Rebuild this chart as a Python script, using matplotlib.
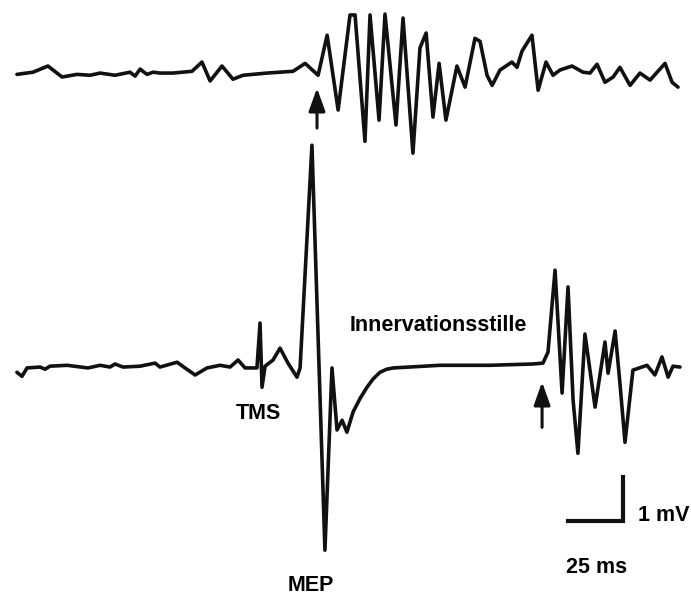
import matplotlib.pyplot as plt

# time in ms relative to the TMS pulse, amplitude in mV

# voluntary EMG (upper trace)
t_vol = [-110.5, -103.2, -96.4, -90.0, -83.2, -77.3, -72.7, -65.9, -59.1, -56.8,
         -54.5, -51.4, -48.6, -45.5, -39.5, -30.9, -26.4, -22.7, -17.3, -12.3,
         -7.7, 3.2, 15.0, 20.5, 26.4, 30.5, 35.5, 40.9, 43.2, 47.7,
         50.0, 54.1, 56.8, 61.8, 65.0, 69.5, 72.7, 75.5, 78.6, 81.4,
         84.5, 89.5, 93.2, 97.7, 100.0, 103.2, 105.5, 109.1, 114.5, 116.8,
         119.1, 123.6, 126.4, 130.0, 133.2, 136.4, 141.8, 146.8, 150.0, 153.2,
         156.8, 160.5, 163.6, 168.2, 172.7, 177.3, 184.1, 187.3, 190.0]
v_vol = [-0.05, 0.0, 0.14, -0.11, -0.05, -0.07, -0.02, -0.07, 0.0, -0.09,
         0.07, -0.05, 0.0, -0.02, -0.02, 0.02, 0.23, -0.20, 0.14, -0.16,
         -0.07, -0.02, 0.02, 0.20, -0.07, 0.84, -0.86, 1.30, 1.30, -1.57,
         1.30, -1.09, 1.32, -1.20, 1.23, -1.84, 0.55, 0.89, -1.02, 0.20,
         -1.09, 0.14, -0.34, 0.77, 0.70, -0.07, -0.30, 0.05, 0.23, 0.11,
         0.48, 0.84, -0.41, 0.23, -0.07, 0.05, 0.14, 0.0, -0.02, 0.18,
         -0.23, -0.11, 0.11, -0.30, -0.02, -0.18, 0.20, -0.23, -0.34]

# EMG with TMS pulse, MEP and silent period (lower trace)
t_tms = [-110.5, -108.2, -105.9, -100.0, -97.7, -95.5, -87.7, -78.2, -72.7, -68.2,
         -65.9, -62.3, -54.5, -47.7, -45.5, -37.7, -34.1, -29.5, -24.1, -18.2,
         -13.6, -10.0, -6.8, -1.4, 0.0, 0.9, 2.3, 5.9, 9.1, 12.7,
         16.8, 18.2, 23.6, 29.5, 32.7, 35.0, 37.3, 39.5, 42.3, 45.5,
         48.6, 51.4, 54.5, 57.5, 60.5, 81.8, 104.5, 124.1, 128.6, 130.9, 134.1, 137.3,
         140.0, 142.3, 144.5, 147.7, 152.3, 156.8, 158.2, 161.4, 163.6, 165.9,
         169.5, 175.9, 179.5, 182.7, 185.5, 187.7, 190.9]
v_tms = [-0.05, -0.14, 0.05, 0.07, 0.02, 0.09, 0.11, 0.05, 0.11, 0.07,
         0.14, 0.07, 0.09, 0.16, 0.07, 0.18, 0.05, -0.11, 0.05, 0.11,
         0.07, 0.23, 0.05, 0.05, 1.07, -0.39, 0.09, 0.23, 0.50, 0.16,
         -0.16, 0.05, 5.11, -4.09, 0.05, -1.36, -1.14, -1.41, -0.95, -0.64,
         -0.39, -0.20, -0.05, 0.02, 0.05, 0.11, 0.11, 0.14, 0.16, 0.41, 2.27, -0.52,
         1.89, -0.68, -1.89, 0.82, -0.84, 0.64, -0.07, 0.89, -0.30, -1.64,
         0.0, 0.11, -0.11, 0.30, -0.16, 0.09, 0.07]

vol_offset = 6.77
bar_ms = 25
bar_mv = 1

plt.rcParams['font.family'] = ['Liberation Sans', 'DejaVu Sans']
fs = 15.5
ink = '#111111'

fig = plt.figure(figsize=(6.91, 5.99), dpi=100)
ax = fig.add_axes([0, 0, 1, 1])

ax.plot(t_vol, [v + vol_offset for v in v_vol], color=ink, lw=2.6,
        solid_joinstyle='round', solid_capstyle='round')
ax.plot(t_tms, v_tms, color=ink, lw=2.6,
        solid_joinstyle='round', solid_capstyle='round')

arrow = dict(arrowstyle='-|>,head_length=1.4,head_width=0.5', color=ink,
             lw=2.2, shrinkA=0, shrinkB=0, mutation_scale=10)
ax.annotate('', xy=(25.9, 6.41), xytext=(25.9, 5.50), arrowprops=arrow)
ax.annotate('', xy=(128.2, -0.27), xytext=(128.2, -1.30), arrowprops=arrow)

# scale bar
sx, sy = 140.0, -3.43
ax.plot([sx, sx + bar_ms, sx + bar_ms], [sy, sy, sy + bar_mv], color=ink, lw=3,
        solid_joinstyle='miter')
ax.text(sx + bar_ms + 6.8, sy + 0.13, '1 mV', fontsize=fs, fontweight='bold',
        ha='left', va='center')
ax.text(sx + bar_ms / 2 + 0.4, -4.48, '25 ms', fontsize=fs, fontweight='bold',
        ha='center', va='center')

ax.text(-0.9, -0.98, 'TMS', fontsize=fs, fontweight='bold', ha='center', va='center')
ax.text(23.2, -4.89, 'MEP', fontsize=fs, fontweight='bold', ha='center', va='center')
ax.text(40.9, 1.02, 'Innervationsstille', fontsize=fs, fontweight='bold',
        ha='left', va='center')

ax.set_xlim(-118.2, 195.9)
ax.set_ylim(-5.20, 8.41)
ax.axis('off')

fig.savefig('out.png', dpi=100, facecolor='white')
